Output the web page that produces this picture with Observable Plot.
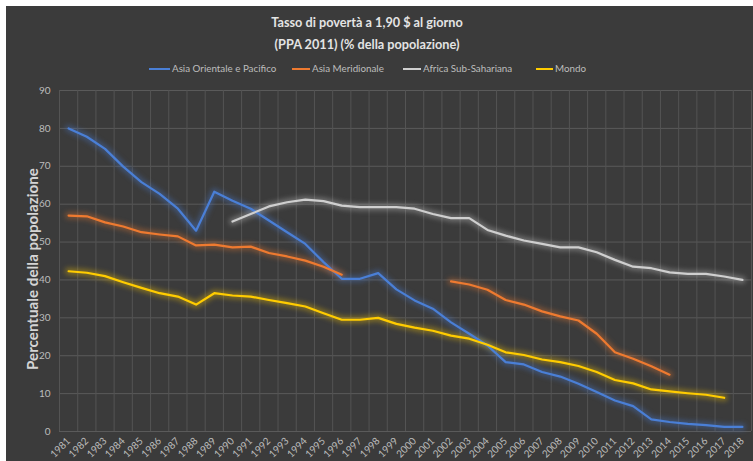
<!DOCTYPE html>
<html><head><meta charset="utf-8">
<script src="https://cdn.jsdelivr.net/npm/d3@7"></script>
<script src="https://cdn.jsdelivr.net/npm/@observablehq/plot@0.6"></script>
<style>
html,body{margin:0;padding:0;background:#fff;overflow:hidden}
#chart{position:relative;width:753px;height:461px;background:#fff;overflow:hidden}
#panel{position:absolute;left:6px;top:6px;width:747px;height:455px;background:#3b3b3b}
#title{position:absolute;left:0;top:11px;width:734px;text-align:center;font-family:Lato,sans-serif;font-weight:bold;font-size:12.7px;line-height:22px;color:#e4e4e4}
.lg{position:absolute;top:61px;font-family:Lato,sans-serif;font-size:9.8px;color:#bdbdbd;white-space:nowrap;line-height:14px}
.sw{position:absolute;top:68px;height:2px}
#ylab{position:absolute;left:32px;top:269px;transform:translate(-50%,-50%) rotate(-90deg);font-family:Lato,sans-serif;font-weight:bold;font-size:15.2px;color:#d4d4d4;white-space:nowrap}
#plot{position:absolute;left:0;top:80px}
</style></head>
<body>
<div id="chart">
  <div id="panel"></div>
  <div id="title">Tasso di povertà a 1,90 $ al giorno<br>(PPA 2011) (% della popolazione)</div>
  <div id="legend"></div>
  <div id="ylab">Percentuale della popolazione</div>
  <div id="plot"></div>
</div>
<script>
const years = d3.range(1981, 2019);
const seriesNames = ["Asia Orientale e Pacifico", "Asia Meridionale", "Africa Sub-Sahariana", "Mondo"];
const seriesColors = ["#4a7fd6", "#ee7a30", "#cfcfcf", "#ffcc00"];
const eap = [80.0,77.8,74.6,69.9,65.8,62.7,58.8,53.0,63.3,60.9,
             58.8,55.7,52.6,49.5,44.7,40.3,40.3,41.8,37.5,34.6,
             32.4,28.8,25.8,22.7,18.3,17.7,15.7,14.5,12.6,10.4,
             8.2,6.7,3.2,2.5,2.0,1.7,1.2,1.2];
const sa = [57.0,56.8,55.2,54.1,52.6,52.0,51.5,49.1,49.3,48.6,
            48.8,47.1,46.2,45.1,43.5,41.4,null,null,null,null,
            null,39.6,38.8,37.4,34.7,33.5,31.7,30.4,29.3,25.8,
            20.9,19.2,17.2,15.0,null,null,null,null];
const ssa = [null,null,null,null,null,null,null,null,null,55.4,
             57.4,59.4,60.5,61.2,60.8,59.6,59.2,59.2,59.2,58.8,
             57.4,56.3,56.3,53.2,51.7,50.4,49.5,48.6,48.6,47.3,
             45.3,43.5,43.1,42.0,41.6,41.6,40.9,40.0];
const world = [42.3,41.9,41.0,39.4,37.9,36.5,35.6,33.5,36.5,35.9,
               35.6,34.7,33.9,33.0,31.2,29.5,29.5,30.0,28.4,27.4,
               26.6,25.3,24.5,22.9,20.9,20.2,19.0,18.3,17.3,15.7,
               13.6,12.7,11.1,10.6,10.1,9.7,8.9,null];
const yTicks = [0,10,20,30,40,50,60,70,80,90];

const seriesValues = [eap, sa, ssa, world];
const data = [];
seriesNames.forEach((s, i) => years.forEach((yr, j) => data.push({s, year: yr, v: seriesValues[i][j]})));
const bounds = years.map(y => y - 0.5).concat([years[years.length - 1] + 0.5]);

// legend
const legendPos = [[149, 172], [292, 312], [403, 423], [536, 555]];
const lg = document.getElementById("legend");
seriesNames.forEach((s, i) => {
  const sw = document.createElement("div");
  sw.className = "sw";
  sw.style.left = legendPos[i][0] + "px";
  sw.style.width = (legendPos[i][1] - legendPos[i][0] - 2) + "px";
  sw.style.background = seriesColors[i];
  lg.appendChild(sw);
  const t = document.createElement("div");
  t.className = "lg";
  t.style.left = legendPos[i][1] + "px";
  t.textContent = s;
  lg.appendChild(t);
});

const chart = Plot.plot({
  width: 753,
  height: 381,
  marginTop: 10,
  marginBottom: 30,
  marginLeft: 59,
  marginRight: 2,
  style: {background: "transparent", fontFamily: "Lato, sans-serif", fontSize: "10px", color: "#bdbdbd"},
  x: {domain: [bounds[0], bounds[bounds.length - 1]], axis: null},
  y: {domain: [0, 90], axis: null},
  color: {domain: seriesNames, range: seriesColors},
  marks: [
    Plot.gridY(yTicks, {stroke: "#5a5a5a", strokeOpacity: 1}),
    Plot.gridX(bounds, {stroke: "#545454", strokeOpacity: 1}),
    Plot.axisY(yTicks, {tickSize: 0, tickPadding: 9, label: null, fill: "#bdbdbd", tickFormat: d => String(d)}),
    Plot.axisX(years, {tickSize: 0, tickPadding: 8, tickRotate: -45, label: null, fill: "#bdbdbd", tickFormat: d => String(d)}),
    Plot.line(data, {x: "year", y: "v", z: "s", stroke: "s", strokeWidth: 7, strokeOpacity: 0.35}),
    Plot.line(data, {x: "year", y: "v", z: "s", stroke: "s", strokeWidth: 2.2})
  ]
});
document.getElementById("plot").appendChild(chart);
const lines = chart.querySelectorAll('g[aria-label="line"]');
if (lines.length) lines[0].style.filter = "blur(2.5px)";
</script>
</body></html>
